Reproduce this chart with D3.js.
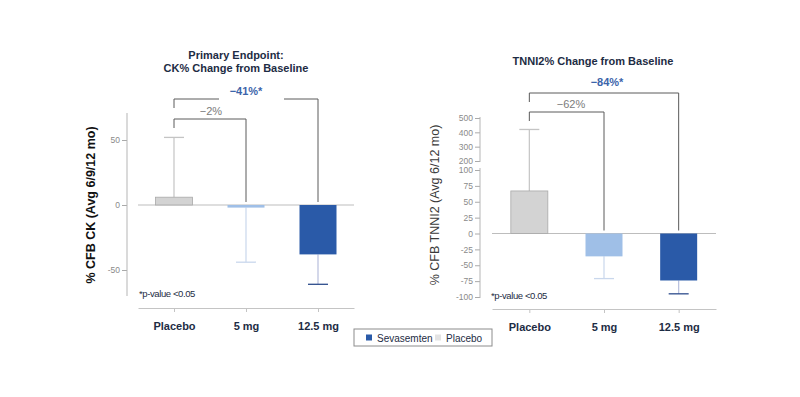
<!DOCTYPE html>
<html>
<head>
<meta charset="utf-8">
<script src="https://cdn.jsdelivr.net/npm/d3@7"></script>
<style>
  body { margin: 0; background: #fff; }
  svg text { font-family: "Liberation Sans", Arial, sans-serif; }
</style>
</head>
<body>
<div id="chart"></div>
<script>
const categories = ['Placebo', '5 mg', '12.5 mg'];

// CK % change from baseline (mean and error whisker end)
const ckMean = [6, -2, -38];
const ckErr = [52, -44, -61];
const ckTicks = [50, 0, -50];
const ckLabels = ['−2%', '−41%*'];

// TNNI2 % change from baseline
const tnMean = [67, -36, -74];
const tnErr = [420, -71, -95];
const tnTicksUpper = [500, 400, 300, 200];
const tnTicksLower = [100, 75, 50, 25, 0, -25, -50, -75, -100];
const tnLabels = ['−62%', '−84%*'];

const legendItems = ['Sevasemten', 'Placebo'];

const colors = {
  'Placebo': '#d3d3d3',
  '5 mg': '#9fbfe7',
  '12.5 mg': '#2a5aa8',
};
const whiskerColors = { 'Placebo': '#c4c4c4', '5 mg': '#c9d7ec', '12.5 mg': '#b7bedc' };
const capColors = { 'Placebo': '#c4c4c4', '5 mg': '#c9d7ec', '12.5 mg': '#2d4c8c' };

const svg = d3.select('#chart').append('svg')
  .attr('width', 800)
  .attr('height', 397);

const barW = 37;
const navy = '#1d2c44';

function drawPanel(opt) {
  const g = svg.append('g');
  const x = d3.scalePoint().domain(categories).range(opt.xRange).padding(0.5);
  const y = opt.y;

  // titles
  opt.title.forEach((t, i) => {
    g.append('text')
      .attr('x', opt.titleX).attr('y', opt.titleY + i * 13)
      .attr('text-anchor', 'middle')
      .attr('font-size', 11).attr('font-weight', 'bold')
      .attr('fill', navy).text(t);
  });

  // y label
  g.append('text')
    .attr('transform', `translate(${opt.yLabelX},${opt.yLabelY}) rotate(-90)`)
    .attr('text-anchor', 'middle')
    .attr('font-size', 12.5).attr('font-weight', opt.yLabelWeight)
    .attr('fill', opt.yLabelColor).text(opt.yLabel);

  // y axes
  opt.axes.forEach((a) => {
    const ax = g.append('g')
      .attr('transform', `translate(${opt.axisX},0)`)
      .call(d3.axisLeft(y).tickValues(a.ticks).tickFormat(d => String(d))
        .tickSize(5).tickPadding(2));
    ax.select('.domain').remove();
    ax.selectAll('line').attr('stroke', '#aaa');
    ax.selectAll('text').attr('fill', '#8a8a8a').attr('font-size', 8.5)
      .style('font-family', '"Liberation Sans", Arial, sans-serif');
    g.append('line')
      .attr('x1', opt.axisX).attr('x2', opt.axisX)
      .attr('y1', a.from).attr('y2', a.to)
      .attr('stroke', '#b5b5b5');
  });

  // zero line
  g.append('line')
    .attr('x1', opt.xRange[0]).attr('x2', opt.xRange[1])
    .attr('y1', y(0)).attr('y2', y(0))
    .attr('stroke', '#bdbdbd');

  // whiskers
  categories.forEach((c, i) => {
    const cx = x(c);
    g.append('line')
      .attr('x1', cx).attr('x2', cx)
      .attr('y1', y(opt.mean[i])).attr('y2', y(opt.err[i]))
      .attr('stroke', whiskerColors[c]).attr('stroke-width', 1.2);
    g.append('line')
      .attr('x1', cx - 10).attr('x2', cx + 10)
      .attr('y1', y(opt.err[i])).attr('y2', y(opt.err[i]))
      .attr('stroke', capColors[c]).attr('stroke-width', 1.3);
  });

  // bars
  g.selectAll('.bar')
    .data(categories)
    .enter().append('rect')
    .attr('class', 'bar')
    .attr('x', d => x(d) - barW / 2)
    .attr('width', barW)
    .attr('y', (d, i) => y(Math.max(0, opt.mean[i])))
    .attr('height', (d, i) => Math.abs(y(opt.mean[i]) - y(0)))
    .attr('fill', d => colors[d])
    .attr('stroke', d => (d === 'Placebo' ? '#a9a9a9' : 'none'))
    .attr('stroke-width', 0.8);

  // brackets
  const x0 = x(categories[0]);
  const legBottom = y(0) - 3;
  opt.brackets.forEach((b) => {
    const x1 = x(categories[b.to]);
    const path = d3.path();
    path.moveTo(x0, b.y + 9);
    path.lineTo(x0, b.y);
    if (b.gap) {
      path.lineTo(b.gap[0], b.y);
      path.moveTo(b.gap[1], b.y);
    }
    path.lineTo(x1, b.y);
    path.lineTo(x1, legBottom);
    g.append('path').attr('d', path.toString())
      .attr('fill', 'none').attr('stroke', '#5a5a5a').attr('stroke-width', 1);
    g.append('text')
      .attr('x', b.tx).attr('y', b.ty)
      .attr('text-anchor', 'middle')
      .attr('font-size', 11)
      .attr('font-weight', b.strong ? 'bold' : 'normal')
      .attr('fill', b.strong ? '#3b64aa' : '#7b7b7b')
      .text(b.label);
  });

  // p-value note
  g.append('text')
    .attr('x', opt.noteX).attr('y', opt.noteY)
    .attr('font-size', 9.5).attr('letter-spacing', -0.4)
    .attr('fill', navy).text('*p-value <0.05');

  // bottom category axis
  const xb = g.append('g')
    .attr('transform', `translate(0,${opt.bottomY})`)
    .call(d3.axisBottom(x).tickSize(4).tickPadding(10).tickSizeOuter(0));
  xb.select('.domain').attr('stroke', '#c4c4c4');
  xb.selectAll('line').attr('stroke', '#c4c4c4');
  xb.selectAll('text').attr('fill', navy).attr('font-size', 11).attr('font-weight', 'bold')
    .style('font-family', '"Liberation Sans", Arial, sans-serif');
}

// left panel: CK
const yCk = d3.scaleLinear().domain([-50, 50]).range([270, 140]);
drawPanel({
  xRange: [138, 354],
  y: yCk,
  title: ['Primary Endpoint:', 'CK% Change from Baseline'],
  titleX: 236, titleY: 59,
  yLabel: '% CFB CK  (Avg 6/9/12 mo)',
  yLabelX: 95, yLabelY: 205, yLabelWeight: 'bold', yLabelColor: '#111',
  axisX: 127,
  axes: [{ ticks: ckTicks, from: 113, to: 296 }],
  mean: ckMean, err: ckErr,
  brackets: [
    { y: 119, to: 1, label: ckLabels[0], tx: 211, ty: 115, strong: false },
    { y: 99, to: 2, label: ckLabels[1], tx: 246, ty: 95, strong: true, gap: [219, 284] },
  ],
  noteX: 139, noteY: 297,
  bottomY: 308,
});

// right panel: TNNI2 (broken axis)
const yTn = d3.scaleLinear().domain([-100, 100, 200, 500]).range([297, 170, 161, 118]);
drawPanel({
  xRange: [492, 716],
  y: yTn,
  title: ['TNNI2% Change from Baseline'],
  titleX: 593, titleY: 65,
  yLabel: '% CFB TNNI2 (Avg 6/12 mo)',
  yLabelX: 439, yLabelY: 205, yLabelWeight: 'normal', yLabelColor: '#3a3a3a',
  axisX: 480,
  axes: [
    { ticks: tnTicksUpper, from: 117, to: 162 },
    { ticks: tnTicksLower, from: 168, to: 298 },
  ],
  mean: tnMean, err: tnErr,
  brackets: [
    { y: 112, to: 1, label: tnLabels[0], tx: 571, ty: 108, strong: false },
    { y: 93, to: 2, label: tnLabels[1], tx: 607, ty: 86, strong: true },
  ],
  noteX: 491, noteY: 299,
  bottomY: 309,
});

// legend
const lg = svg.append('g').attr('transform', 'translate(354,329)');
lg.append('rect').attr('width', 138).attr('height', 17)
  .attr('fill', '#fff').attr('stroke', '#8c8c8c');
const legX = d3.scaleOrdinal().domain(legendItems).range([12, 81]);
const legC = d3.scaleOrdinal().domain(legendItems).range([colors['12.5 mg'], '#e3e3e3']);
legendItems.forEach((d) => {
  lg.append('rect').attr('x', legX(d)).attr('y', 5.5).attr('width', 6).attr('height', 6)
    .attr('fill', legC(d));
  lg.append('text').attr('x', legX(d) + 11).attr('y', 12.5)
    .attr('font-size', 10).attr('fill', navy).text(d);
});
</script>
</body>
</html>
